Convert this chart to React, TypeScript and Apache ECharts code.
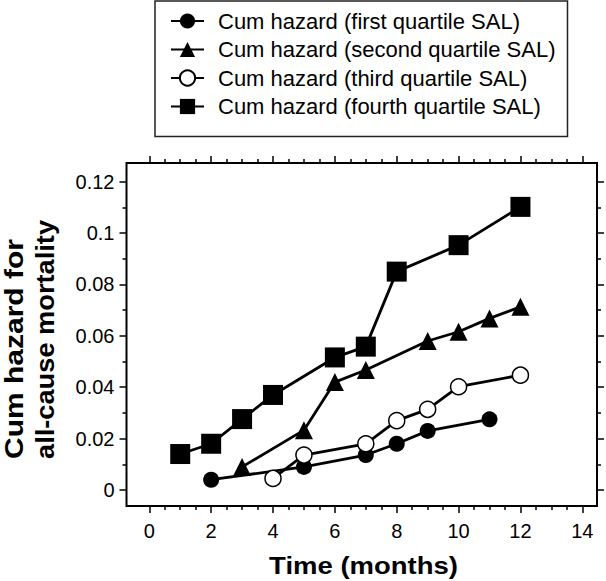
import React, { useEffect, useRef } from "react";
import * as echarts from "echarts";

const FONT = "'Liberation Sans', Arial, Helvetica, sans-serif";

const seriesNames = [
  "Cum hazard (first quartile SAL)",
  "Cum hazard (second quartile SAL)",
  "Cum hazard (third quartile SAL)",
  "Cum hazard (fourth quartile SAL)",
];

const monthsFirst = [2, 5, 7, 8, 9, 11];
const hazardFirst = [0.004, 0.009, 0.0136, 0.018, 0.023, 0.0275];

const monthsSecond = [3, 5, 6, 7, 9, 10, 11, 12];
const hazardSecond = [0.009, 0.0233, 0.042, 0.0467, 0.058, 0.0616, 0.0668, 0.0713];

const monthsThird = [4, 5, 7, 8, 9, 10, 12];
const hazardThird = [0.0045, 0.0136, 0.018, 0.027, 0.0314, 0.0402, 0.0447];

const monthsFourth = [1, 2, 3, 4, 6, 7, 8, 10, 12];
const hazardFourth = [0.014, 0.018, 0.0276, 0.037, 0.0516, 0.0558, 0.085, 0.0953, 0.1102];

const xTicks = { min: 0, max: 14, interval: 2 };
const yTicks = { min: 0, max: 0.12, interval: 0.02 };

const xTitle = "Time (months)";
const yTitleLines = ["Cum hazard for", "all-cause mortality"];
const yTitleStretch = [1.2, 1.09];

function pairs(xs: number[], ys: number[]) {
  return xs.map((x, i) => [x, ys[i]]);
}

export default function App() {
  const ref = useRef<HTMLDivElement>(null);

  useEffect(() => {
    if (!ref.current) return;
    const chart = echarts.init(ref.current, undefined, { renderer: "svg" });

    const tickStyle = { color: "#000", width: 1.5 };
    const baseAxis = {
      type: "value" as const,
      gridIndex: 1,
      axisLine: { show: false, onZero: false },
      axisTick: { show: true, inside: false, length: 7, lineStyle: tickStyle },
      minorTick: { show: true, length: 4, lineStyle: tickStyle },
      splitLine: { show: false },
      minorSplitLine: { show: false },
    };

    const lineStyle = { color: "#000", width: 2.8 };
    const common = {
      type: "line" as const,
      xAxisIndex: 1,
      yAxisIndex: 1,
      clip: false,
      lineStyle,
      z: 3,
    };

    const titleStyle = {
      fontFamily: FONT,
      fontWeight: "bold",
      fill: "#000",
    };

    chart.setOption({
      animation: false,
      backgroundColor: "#fff",
      legend: {
        orient: "vertical",
        left: 155,
        top: 1,
        padding: [9, 12, 19, 15],
        borderColor: "#222",
        borderWidth: 1.5,
        itemWidth: 33,
        itemHeight: 19,
        itemGap: 6.5,
        selectedMode: false,
        textStyle: {
          fontFamily: FONT,
          fontSize: 22,
          lineHeight: 22,
          color: "#000",
          padding: [0, 0, 0, 9],
        },
        data: seriesNames,
      },
      grid: [
        {
          left: 126.5,
          right: 9,
          top: 163,
          bottom: 75,
          show: true,
          borderColor: "#000",
          borderWidth: 2,
          containLabel: false,
          outerBoundsMode: "none",
        },
        {
          left: 149.3,
          right: 23.7,
          top: 181.7,
          bottom: 91,
          containLabel: false,
          outerBoundsMode: "none",
        },
      ],
      xAxis: [
        { type: "value", gridIndex: 0, min: 0, max: 1, show: false },
        {
          ...baseAxis,
          ...xTicks,
          position: "bottom",
          offset: 16,
          minorTick: { ...baseAxis.minorTick, splitNumber: 4 },
          axisLabel: { fontFamily: FONT, fontSize: 20, color: "#000", margin: 15 },
        },
        {
          ...baseAxis,
          ...xTicks,
          position: "top",
          offset: 18.7,
          minorTick: { ...baseAxis.minorTick, splitNumber: 4 },
          axisLabel: { show: false },
        },
      ],
      yAxis: [
        { type: "value", gridIndex: 0, min: 0, max: 1, show: false },
        {
          ...baseAxis,
          ...yTicks,
          position: "left",
          offset: 22.8,
          minorTick: { ...baseAxis.minorTick, splitNumber: 2 },
          axisLabel: {
            fontFamily: FONT,
            fontSize: 20,
            color: "#000",
            margin: 12,
            formatter: (v: number) => String(parseFloat(v.toFixed(3))),
          },
        },
        {
          ...baseAxis,
          ...yTicks,
          position: "right",
          offset: 14.7,
          minorTick: { ...baseAxis.minorTick, splitNumber: 2 },
          axisLabel: { show: false },
        },
      ],
      graphic: [
        ...yTitleLines.map((t, i) => ({
          type: "text",
          x: 14 + i * 31,
          y: 459,
          rotation: Math.PI / 2,
          scaleX: yTitleStretch[i],
          style: {
            ...titleStyle,
            text: t,
            fontSize: 25,
            align: "left",
            verticalAlign: "middle",
          },
        })),
        {
          type: "text",
          x: 363.5,
          y: 566,
          scaleX: 1.17,
          style: {
            ...titleStyle,
            text: xTitle,
            fontSize: 23.5,
            align: "center",
            verticalAlign: "middle",
          },
        },
      ],
      series: [
        {
          ...common,
          name: seriesNames[0],
          data: pairs(monthsFirst, hazardFirst),
          symbol: "circle",
          symbolSize: 16,
          itemStyle: { color: "#000" },
        },
        {
          ...common,
          name: seriesNames[1],
          data: pairs(monthsSecond, hazardSecond),
          symbol: "triangle",
          symbolSize: [18, 18],
          itemStyle: { color: "#000" },
        },
        {
          ...common,
          name: seriesNames[2],
          data: pairs(monthsThird, hazardThird),
          symbol: "circle",
          symbolSize: 16,
          itemStyle: { color: "#fff", borderColor: "#000", borderWidth: 1.5 },
        },
        {
          ...common,
          name: seriesNames[3],
          data: pairs(monthsFourth, hazardFourth),
          symbol: "rect",
          symbolSize: 20,
          itemStyle: { color: "#000" },
        },
      ],
    });

    return () => chart.dispose();
  }, []);

  return (
    <div
      ref={ref}
      style={{ position: "absolute", left: 0, top: 0, width: 606, height: 581 }}
    />
  );
}
